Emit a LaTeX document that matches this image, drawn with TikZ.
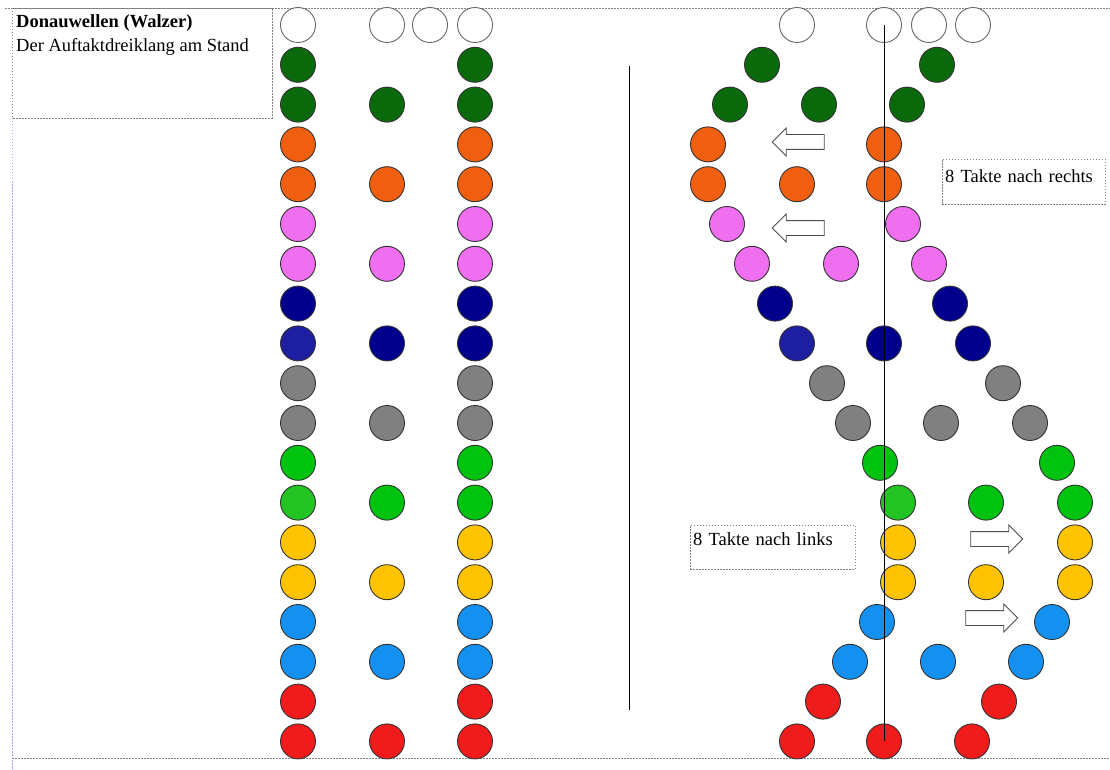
\documentclass[tikz,border=0pt]{standalone}
\usepackage{fontspec}
\setmainfont{Liberation Serif}
\usepackage{xcolor}
\usepackage{tikz}
\usetikzlibrary{shapes.arrows, positioning, calc}
\definecolor{dgreen}{RGB}{10, 105, 10}
\definecolor{orng}{RGB}{240, 95, 15}
\definecolor{pinkv}{RGB}{240, 110, 240}
\definecolor{navy}{RGB}{0, 0, 140}
\definecolor{navyb}{RGB}{30, 30, 160}
\definecolor{grayd}{RGB}{128, 128, 128}
\definecolor{greenl}{RGB}{0, 195, 15}
\definecolor{greenm}{RGB}{35, 195, 35}
\definecolor{gold}{RGB}{255, 195, 0}
\definecolor{skyb}{RGB}{20, 145, 240}
\definecolor{redd}{RGB}{240, 28, 28}
\definecolor{frame}{RGB}{130, 130, 130}
\tikzset{
    dancer/.style = {circle, draw=black!80, line width=0.9pt, minimum size=35pt, inner sep=0pt},
    empty/.style = {dancer, draw=black!60, fill=white},
    note/.style = {rectangle, draw=frame, dash pattern=on 1.5pt off 1.5pt, anchor=north west, align=left, inner sep=3pt},
    move/.style = {single arrow, draw=black!70, fill=white, line width=0.8pt, inner xsep=0pt, inner ysep=7pt, minimum height=52pt, single arrow head extend=6.5pt},
    border/.style = {frame, line width=0.7pt, dash pattern=on 1.5pt off 1.5pt}
}

\begin{document}
\begin{tikzpicture}[x=1pt, y=-1pt, font=\fontsize{18.5}{22}\selectfont]
\useasboundingbox (0,0) rectangle (1110,770);

% Frame
\draw [border] (5,8) -- (1110,8);
\draw [border] (12,758) -- (1110,758);
\draw [border] (12,8) rectangle (272,118);
\draw [blue!35, line width=0.7pt, dash pattern=on 1.5pt off 1.5pt] (12,118) -- (12,770);

% Title
\node (title) [anchor=base west, inner sep=0pt] at (16,28) {\textbf{Donauwellen (Walzer)}};
\node (sub) [anchor=base west, inner sep=0pt] at (16,52) {Der Auftaktdreiklang am Stand};

% Nodes -- left: standing
\foreach \x in {298, 387, 430, 475}
    \node (s0-\x) [empty] at (\x,25) {};
\foreach \r/\c/\d in {1/dgreen/dgreen, 2/dgreen/dgreen, 3/orng/orng, 4/orng/orng,
                      5/pinkv/pinkv, 6/pinkv/pinkv, 7/navy/navy, 8/navyb/navy,
                      9/grayd/grayd, 10/grayd/grayd, 11/greenl/greenl, 12/greenm/greenl,
                      13/gold/gold, 14/gold/gold, 15/skyb/skyb, 16/skyb/skyb,
                      17/redd/redd, 18/redd/redd} {
    \node (s\r-298) [dancer, fill=\c] at (298,{25+39.8*\r}) {};
    \node (s\r-475) [dancer, fill=\d] at (475,{25+39.8*\r}) {};
}
\foreach \r/\c in {2/dgreen, 4/orng, 6/pinkv, 8/navy, 10/grayd, 12/greenl,
                   14/gold, 16/skyb, 18/redd}
    \node (s\r-387) [dancer, fill=\c] at (387,{25+39.8*\r}) {};

% Nodes -- right: moving
\foreach \x in {797, 884, 929, 973}
    \node (m0-\x) [empty] at (\x,25) {};
\foreach \x/\r/\c in {762/1/dgreen, 937/1/dgreen,
                      730/2/dgreen, 819/2/dgreen, 907/2/dgreen,
                      708/3/orng, 884/3/orng,
                      708/4/orng, 797/4/orng, 884/4/orng,
                      727/5/pinkv, 903/5/pinkv,
                      752/6/pinkv, 841/6/pinkv, 929/6/pinkv,
                      775/7/navy, 950/7/navy,
                      797/8/navyb, 884/8/navy, 973/8/navy,
                      827/9/grayd, 1003/9/grayd,
                      853/10/grayd, 941/10/grayd, 1030/10/grayd,
                      880/11/greenl, 1057/11/greenl,
                      898/12/greenm, 986/12/greenl, 1075/12/greenl,
                      898/13/gold, 1075/13/gold,
                      898/14/gold, 986/14/gold, 1075/14/gold,
                      877/15/skyb, 1052/15/skyb,
                      850/16/skyb, 938/16/skyb, 1026/16/skyb,
                      823/17/redd, 999/17/redd,
                      797/18/redd, 884/18/redd, 972/18/redd}
    \node (m\r-\x) [dancer, fill=\c] at (\x,{25+39.8*\r}) {};

% Arrows
\node (back1) [move, shape border rotate=180] at (802,142) {};
\node (back2) [move, shape border rotate=180] at (802,228) {};
\node (fwd1) [move] at (993,539) {};
\node (fwd2) [move] at (988,618) {};

% Notes
\node (rechts) [note, text width=157pt, text height=20pt, text depth=19pt] at (942,159) {8 Takte nach rechts};
\node (links) [note, text width=159pt, text height=17pt, text depth=21pt] at (690,525) {8 Takte nach links};

% Lines
\coordinate (top) at (629,66);
\coordinate (bot) at (629,710);
\draw [line width=0.8pt] (top) -- (bot);
\draw [line width=0.8pt] (m0-884.center) -- (m18-884.center);

\end{tikzpicture}
\end{document}
